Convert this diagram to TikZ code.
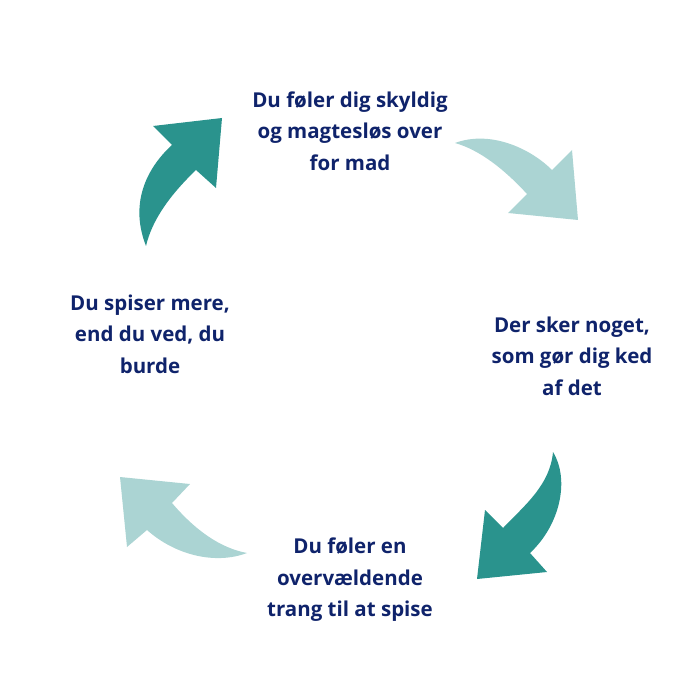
\documentclass[tikz,border=0pt]{standalone}
\usepackage{fontspec}
\setmainfont{Open Sans}
\definecolor{navy}{HTML}{0F236B}
\definecolor{tealD}{HTML}{2A938D}
\definecolor{tealL}{HTML}{ABD4D3}
\begin{document}
\begin{tikzpicture}[x=1pt,y=-1pt,
  lbl/.style={text=navy,font=\bfseries\fontsize{20.5}{31.5}\selectfont,align=center,inner sep=0pt}]
\useasboundingbox (0,0) rectangle (700,700);
% arrows
\fill[tealD] (146,246) .. controls (128,200) and (150,165) .. (172,145) -- (153,126) -- (222,118) -- (216,188) -- (196,170) .. controls (170,195) and (152,220) .. (146,246) -- cycle;
\fill[tealL] (455,143) .. controls (490,130) and (530,148) .. (552,170) -- (572,150) -- (578,220) -- (508,213) -- (527,194) .. controls (505,170) and (480,150) .. (455,143) -- cycle;
\fill[tealD] (553,452) .. controls (570,480) and (560,525) .. (530,553) -- (547,572) -- (477,579) -- (485,510) -- (503,528) .. controls (525,505) and (550,485) .. (553,452) -- cycle;
\fill[tealL] (247,553) .. controls (215,565) and (175,555) .. (147,530) -- (127,547) -- (120,477) -- (190,484) -- (172,503) .. controls (195,530) and (220,548) .. (247,553) -- cycle;
% labels
\node[lbl] (top) at (350,131) {Du føler dig skyldig\\og magtesløs over\\for mad};
\node[lbl] (right) at (572,356) {Der sker noget,\\som gør dig ked\\af det};
\node[lbl] (bottom) at (350,580) {Du føler en\\overvældende\\trang til at spise};
\node[lbl] (left) at (150,334) {Du spiser mere,\\end du ved, du\\burde};
\end{tikzpicture}
\end{document}
